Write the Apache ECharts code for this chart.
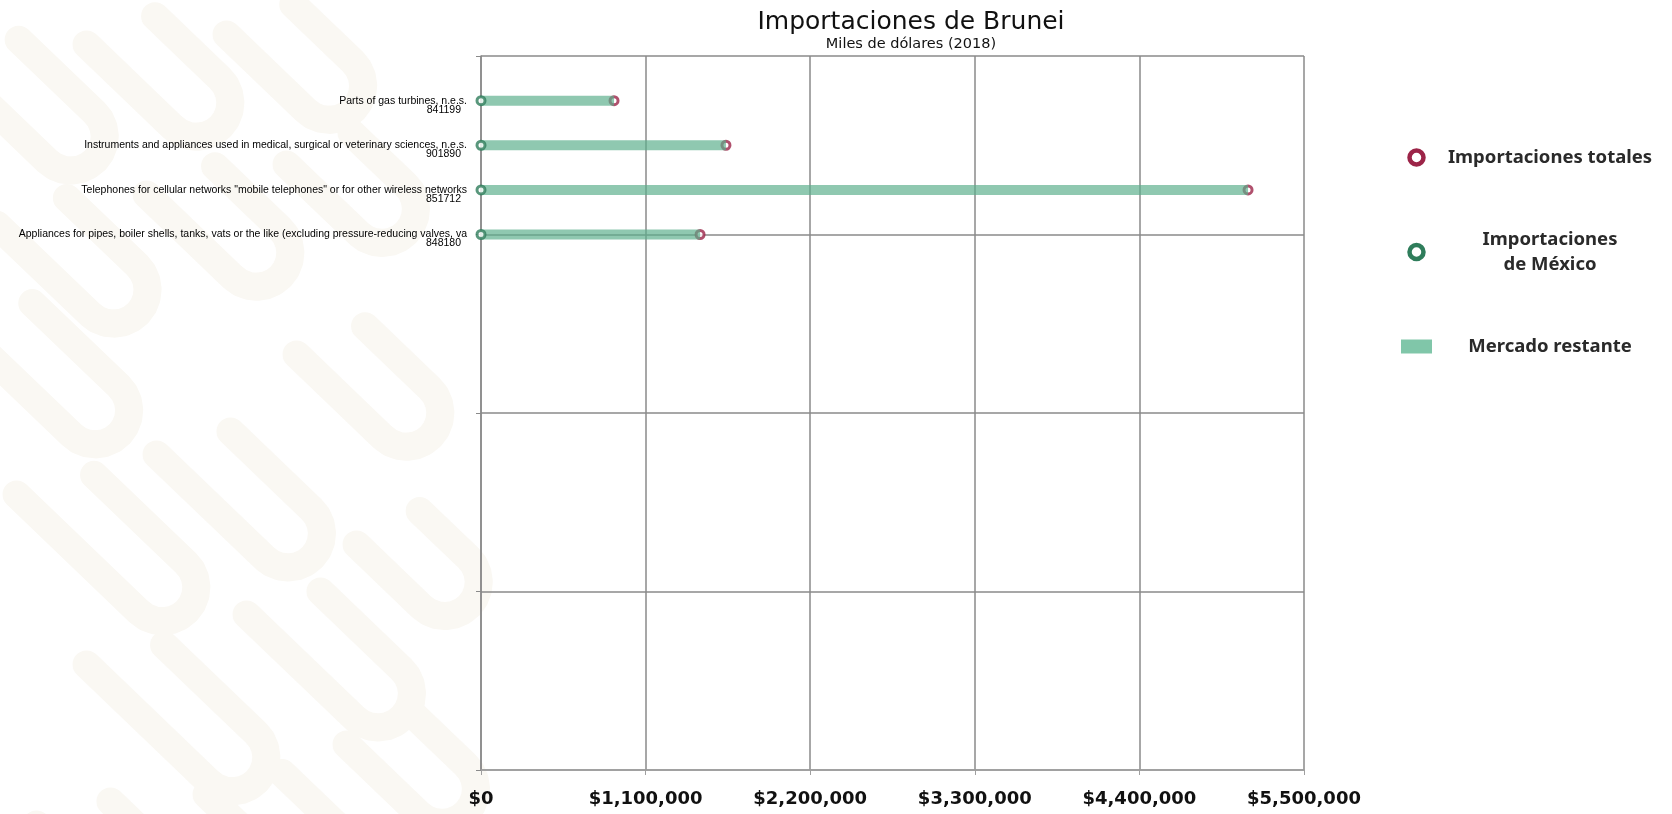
<!DOCTYPE html>
<html>
<head>
<meta charset="utf-8">
<title>Importaciones de Brunei</title>
<script src="https://cdn.jsdelivr.net/npm/echarts@6/dist/echarts.min.js"></script>
<style>
html, body { margin: 0; padding: 0; background: #fff; }
#main { width: 1672px; height: 814px; }
</style>
</head>
<body>
<div id="main"></div>
<script>
// productos, de arriba hacia abajo
const productos = [
  'Parts of gas turbines, n.e.s.',
  'Instruments and appliances used in medical, surgical or veterinary sciences, n.e.s.',
  'Telephones for cellular networks "mobile telephones" or for other wireless networks',
  'Appliances for pipes, boiler shells, tanks, vats or the like (excluding pressure-reducing valves, va'
]
const codigos = ['841199', '901890', '851712', '848180']
// miles de dólares
const totales = [889000, 1637000, 5126000, 1464000]
const mexico = [0, 0, 0, 0]
const xMax = 5500000
const xPaso = 1100000

const rojo = '#9c2448'
const verde = '#2f7d5b'
const verdeBarra = '#80c6a9'
const fuente = "'DejaVu Sans', sans-serif"
const fuenteLeyenda = "'Noto Sans', sans-serif"
const fuenteEtiqueta = "'Liberation Sans Narrow', 'Liberation Sans', sans-serif"

// el eje y tiene 17 posiciones, los productos van en la 1..4
const posiciones = []
for (let i = 0; i <= 16; i++) posiciones.push('p' + i)
const base = posiciones.map(() => '-')
const resto = posiciones.map(() => '-')
productos.forEach((p, i) => {
  base[i + 1] = mexico[i]
  resto[i + 1] = totales[i] - mexico[i]
})

// fondo decorativo (trazos en forma de U, muy tenues)
const trazos = [
  [-30, 40, 140], [110, 20, 120], [250, 10, 110],
  [20, 200, 130], [170, 170, 120], [310, 140, 100],
  [40, 470, 170], [180, 430, 150], [320, 330, 120],
  [110, 640, 170], [270, 590, 150], [380, 520, 90],
  [60, 800, 150], [230, 770, 160], [370, 720, 100],
  [-20, 300, 160]
]
const fondo = trazos.map(([x, y, L]) => {
  const dx = 0.72, dy = 0.69, nx = -0.69, ny = 0.72, r = 34
  const ax = x + nx * r, ay = y + ny * r
  const bx = ax + dx * L, by = ay + dy * L
  const ox = bx - nx * r, oy = by - ny * r
  const pts = [[ax, ay], [bx, by]]
  const a0 = Math.atan2(ny, nx)
  for (let k = 1; k < 12; k++) {
    const a = a0 - Math.PI * k / 12
    pts.push([ox + r * Math.cos(a), oy + r * Math.sin(a)])
  }
  const cx = bx - nx * 2 * r, cy = by - ny * 2 * r
  pts.push([cx, cy], [cx - dx * L * 0.75, cy - dy * L * 0.75])
  return {
    type: 'polyline',
    z: -10,
    silent: true,
    shape: { points: pts },
    style: { fill: null, stroke: '#faf8f3', lineWidth: 28, lineCap: 'round', lineJoin: 'round' }
  }
})

const myChart = echarts.init(document.getElementById('main'))

const option = {
  backgroundColor: '#fff',
  graphic: fondo,
  title: {
    text: 'Importaciones de Brunei',
    subtext: 'Miles de dólares (2018)',
    left: 906,
    top: 5,
    textAlign: 'center',
    itemGap: 2,
    textStyle: { fontFamily: fuente, fontSize: 25, fontWeight: 'normal', color: '#111' },
    subtextStyle: { fontFamily: fuente, fontSize: 14.5, color: '#111' }
  },
  legend: {
    orient: 'vertical',
    left: 1396,
    top: 143,
    itemWidth: 31,
    itemHeight: 14,
    itemGap: 63,
    selectedMode: false,
    data: [
      { name: 'Importaciones totales', icon: 'circle', itemStyle: { color: '#fff', borderColor: rojo, borderWidth: 4.5, opacity: 1 } },
      { name: 'Importaciones de México', icon: 'circle', itemStyle: { color: '#fff', borderColor: verde, borderWidth: 4.5, opacity: 1 } },
      { name: 'Mercado restante', icon: 'rect', itemStyle: { color: verdeBarra, borderWidth: 0, opacity: 1 } }
    ],
    formatter: function (name) {
      if (name === 'Importaciones de México') return '{t|Importaciones}\n{t|de México}'
      return '{t|' + name + '}'
    },
    textStyle: {
      rich: {
        t: { width: 226, align: 'center', fontSize: 18.5, fontWeight: 'bold', lineHeight: 25, color: '#2a2a2a', fontFamily: fuenteLeyenda }
      }
    }
  },
  grid: {
    left: 481,
    right: 368,
    top: 56,
    bottom: 44
  },
  xAxis: {
    type: 'value',
    min: 0,
    max: xMax,
    interval: xPaso,
    axisLine: { show: true, lineStyle: { color: '#a0a0a0', width: 1.5 } },
    axisTick: { show: true, length: 5, lineStyle: { color: '#a0a0a0' } },
    splitLine: { show: true, lineStyle: { color: '#8a8a8a', width: 1.5 } },
    axisLabel: {
      margin: 20,
      fontFamily: fuente,
      fontSize: 18,
      fontWeight: 'bold',
      color: '#111',
      formatter: v => '$' + v.toLocaleString('en-US')
    }
  },
  yAxis: {
    type: 'category',
    data: posiciones,
    inverse: true,
    boundaryGap: false,
    axisLine: { show: true, lineStyle: { color: '#8a8a8a', width: 1.5 } },
    axisTick: { show: true, length: 5, interval: i => i % 4 === 0, lineStyle: { color: '#8a8a8a' } },
    splitLine: { show: true, interval: i => i % 4 === 0, lineStyle: { color: '#8a8a8a', width: 1.5 } },
    axisLabel: {
      interval: 0,
      margin: 14,
      verticalAlign: 'middle',
      formatter: function (value, index) {
        if (index < 1 || index > productos.length) return ''
        return '{e| }\n{n|' + productos[index - 1] + '}\n{c|' + codigos[index - 1] + '}'
      },
      rich: {
        e: { fontSize: 10, lineHeight: 9 },
        n: { fontSize: 10.5, lineHeight: 9, color: '#000', fontFamily: fuenteEtiqueta, align: 'right' },
        c: { fontSize: 10.5, lineHeight: 9, color: '#000', fontFamily: fuenteEtiqueta, align: 'right', padding: [0, 6, 0, 0] }
      }
    }
  },
  series: [
    {
      name: 'Importaciones totales',
      type: 'scatter',
      z: 1,
      symbol: 'circle',
      symbolSize: 8,
      itemStyle: { color: '#fff', borderColor: rojo, borderWidth: 3 },
      data: totales.map((v, i) => [v, i + 1])
    },
    {
      name: 'base',
      type: 'bar',
      stack: 'imp',
      z: 2,
      barWidth: 10,
      itemStyle: { color: 'transparent' },
      data: base
    },
    {
      name: 'Mercado restante',
      type: 'bar',
      stack: 'imp',
      z: 2,
      barWidth: 10,
      itemStyle: { color: '#5aae8b', opacity: 0.68 },
      data: resto
    },
    {
      name: 'Importaciones de México',
      type: 'scatter',
      z: 3,
      symbol: 'circle',
      symbolSize: 8,
      itemStyle: { color: '#fff', borderColor: verde, borderWidth: 3 },
      data: mexico.map((v, i) => [v, i + 1])
    }
  ]
}

myChart.setOption(option)
window.addEventListener('resize', () => {
  myChart.resize()
})
</script>
</body>
</html>
